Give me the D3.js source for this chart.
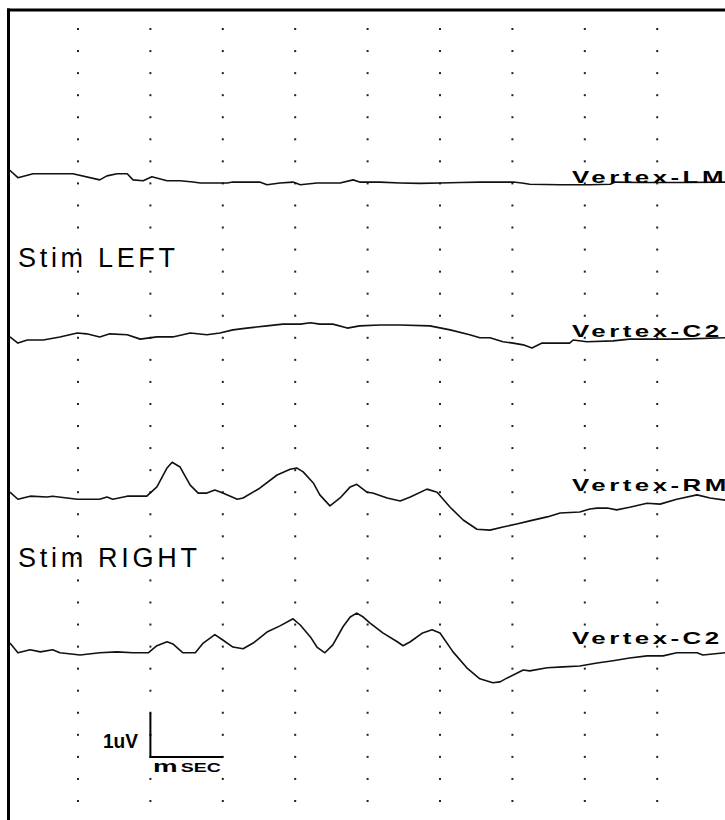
<!DOCTYPE html>
<html>
<head>
<meta charset="utf-8">
<script src="https://cdn.jsdelivr.net/npm/d3@7"></script>
<style>
  body { margin: 0; background: #fff; }
  svg { display: block; }
</style>
</head>
<body>
<svg width="725" height="820"></svg>
<script>
// time in msec, amplitude in uV (positive up)
const gridTimes = [10, 20, 30, 40, 50, 60, 70, 80, 90];
const gridRows = d3.range(0, 36);

const vertexLM = [
  [0.5, 0.23], [1.7, 0.05], [3.8, 0.14], [6.1, 0.14], [9.3, 0.14], [13.0, 0],
  [14.0, 0.09], [15.4, 0.14], [16.8, 0.14], [17.6, 0], [19.0, -0.02], [20.2, 0.07],
  [22.3, -0.02], [24.1, -0.02], [25.9, -0.05], [26.9, -0.07], [28.6, -0.07],
  [30.6, -0.07], [31.4, -0.05], [33.3, -0.05], [35.1, -0.05], [36.1, -0.11],
  [37.9, -0.07], [39.7, -0.05], [40.7, -0.11], [43.0, -0.07], [46.2, -0.07],
  [48.0, 0], [48.9, -0.05], [51.7, -0.05], [54.5, -0.07], [57.2, -0.08],
  [60.0, -0.07], [62.8, -0.06], [65.5, -0.05], [70.1, -0.05], [71.3, -0.07],
  [72.4, -0.10], [76.6, -0.11], [80.7, -0.11], [83.5, -0.10], [84.2, -0.05],
  [87.6, -0.06], [93.2, -0.06], [99.4, -0.05]
];

const vertexC2Left = [
  [0.6, 0], [1.7, -0.14], [3.0, -0.07], [5.2, -0.07], [7.5, 0], [9.9, 0.09],
  [11.2, 0.07], [13.0, 0], [14.4, 0.07], [16.8, 0.05], [18.6, -0.05], [20.9, 0],
  [23.1, 0], [25.5, 0.09], [27.8, 0.05], [29.6, 0.09], [31.4, 0.16], [33.3, 0.20],
  [36.1, 0.25], [38.3, 0.29], [40.7, 0.29], [42.1, 0.32], [43.4, 0.29],
  [45.2, 0.29], [47.2, 0.20], [48.9, 0.25], [51.7, 0.27], [54.5, 0.27],
  [58.6, 0.25], [61.4, 0.16], [64.1, 0.05], [65.5, -0.02], [66.9, -0.02],
  [68.7, -0.11], [70.1, -0.14], [71.5, -0.18], [72.7, -0.25], [74.1, -0.14],
  [77.9, -0.14], [78.4, -0.07], [80.3, -0.11], [83.9, -0.09], [86.2, -0.05],
  [93.2, -0.05], [99.4, -0.02]
];

const vertexRM = [
  [0.6, 0.11], [1.7, -0.05], [3.4, 0.02], [5.7, 0], [6.5, 0.02], [9.9, -0.05],
  [13.0, -0.05], [14.0, 0], [14.8, -0.05], [16.8, 0.02], [19.5, 0.02],
  [20.9, 0.23], [22.3, 0.66], [23.0, 0.79], [24.1, 0.68], [25.5, 0.27],
  [26.6, 0.09], [27.8, 0.09], [28.9, 0.16], [30.0, 0.09], [32.0, -0.05],
  [32.8, -0.02], [35.1, 0.20], [37.5, 0.50], [39.3, 0.63], [40.2, 0.66],
  [41.1, 0.57], [42.5, 0.32], [43.4, 0.05], [44.8, -0.20], [46.2, -0.02],
  [47.6, 0.23], [48.5, 0.29], [49.9, 0.11], [50.7, 0.09], [52.7, -0.02],
  [54.5, -0.09], [55.9, 0], [58.2, 0.18], [59.6, 0.11], [61.4, -0.23],
  [63.2, -0.52], [65.1, -0.73], [66.9, -0.75], [68.7, -0.68], [70.6, -0.61],
  [72.4, -0.54], [74.8, -0.45], [76.6, -0.36], [79.3, -0.34], [80.7, -0.27],
  [81.7, -0.25], [83.1, -0.25], [84.4, -0.29], [86.2, -0.23], [88.6, -0.14],
  [90.4, -0.16], [92.7, -0.05], [95.5, 0.05], [97.3, -0.02], [99.4, -0.07]
];

const vertexC2Right = [
  [0.6, 0.20], [1.7, -0.02], [3.4, 0.05], [4.8, 0], [6.5, 0.05], [7.5, -0.02],
  [10.3, -0.07], [13.0, -0.02], [15.4, 0], [17.6, -0.02], [19.7, -0.02],
  [20.9, 0.14], [22.3, 0.23], [23.1, 0.18], [24.5, -0.02], [26.2, -0.02],
  [27.3, 0.20], [28.9, 0.39], [30.0, 0.27], [31.4, 0.11], [32.8, 0.07],
  [34.2, 0.20], [36.1, 0.45], [37.9, 0.59], [39.7, 0.75], [40.7, 0.61],
  [42.1, 0.34], [43.0, 0.11], [44.1, -0.02], [45.2, 0.16], [46.6, 0.57],
  [47.6, 0.79], [48.5, 0.88], [49.4, 0.79], [50.3, 0.66], [52.1, 0.43],
  [54.1, 0.23], [54.9, 0.14], [55.9, 0.23], [57.6, 0.43], [58.9, 0.50],
  [60.0, 0.43], [61.8, 0], [63.7, -0.36], [65.5, -0.61], [67.3, -0.70],
  [68.3, -0.68], [69.3, -0.59], [71.5, -0.41], [72.4, -0.43], [74.8, -0.36],
  [77.0, -0.34], [79.3, -0.32], [81.7, -0.25], [83.9, -0.20], [86.2, -0.14],
  [88.6, -0.09], [90.8, -0.09], [92.7, -0.02], [95.5, -0.02], [96.3, -0.07],
  [99.4, -0.02]
];

// label baseline is given relative to the channel baseline, in uV
const channels = [
  { label: 'Vertex-LM', data: vertexLM, offset: -3.42, labelShift: -0.07 },
  { label: 'Vertex-C2', data: vertexC2Left, offset: -6.98, labelShift: 0 },
  { label: 'Vertex-RM', data: vertexRM, offset: -10.61, labelShift: 0.14 },
  { label: 'Vertex-C2', data: vertexC2Right, offset: -14.12, labelShift: 0.18 }
];

const stimLabels = [
  { text: 'Stim LEFT', level: -5.4, width: 157 },
  { text: 'Stim RIGHT', level: -12.2, width: 179 }
];

const svg = d3.select('svg');

// 10 msec per division, 0.5 uV per dot row
const x = d3.scaleLinear().domain([0, 100]).range([5.6, 729.6]);
const y = d3.scaleLinear().domain([0, -17.5]).range([29, 801]);

// dotted grid
const dots = [];
gridTimes.forEach((t) => {
  gridRows.forEach((r) => dots.push({ t, v: -r * 0.5 }));
});
svg.append('g')
  .selectAll('rect')
  .data(dots)
  .enter()
  .append('rect')
  .attr('x', d => x(d.t) - 1)
  .attr('y', d => y(d.v) - 1)
  .attr('width', 2)
  .attr('height', 2)
  .attr('fill', '#222');

// frame (left and top only)
svg.append('line')
  .attr('x1', 8.5).attr('x2', 8.5)
  .attr('y1', 8.5).attr('y2', 820)
  .attr('stroke', '#000').attr('stroke-width', 3);
svg.append('line')
  .attr('x1', 7).attr('x2', 725)
  .attr('y1', 10).attr('y2', 10)
  .attr('stroke', '#000').attr('stroke-width', 3);

// traces
const line = d3.line()
  .x(d => x(d[0]))
  .y(d => d[1]);

channels.forEach((ch) => {
  svg.append('path')
    .datum(ch.data.map(d => [d[0], y(ch.offset + d[1])]))
    .attr('d', line)
    .attr('fill', 'none')
    .attr('stroke', '#111')
    .attr('stroke-width', 1.6)
    .attr('stroke-linejoin', 'round');

  // wide plotter-style lettering, runs off the right edge like the original
  svg.append('text')
    .attr('transform', `translate(572,${y(ch.offset + ch.labelShift)}) scale(1.52,1)`)
    .attr('font-family', 'Liberation Sans, Arial, sans-serif')
    .attr('font-weight', 'bold')
    .attr('font-size', 17)
    .attr('letter-spacing', 2.3)
    .attr('fill', '#000')
    .text(ch.label);
});

// stimulus labels
svg.selectAll('.stim')
  .data(stimLabels)
  .enter()
  .append('text')
  .attr('class', 'stim')
  .attr('x', 18)
  .attr('y', d => y(d.level))
  .attr('font-family', 'Liberation Sans, Arial, sans-serif')
  .attr('font-size', 27)
  .attr('textLength', d => d.width)
  .attr('lengthAdjust', 'spacing')
  .attr('fill', '#000')
  .text(d => d.text);

// calibration bar: 1 uV by 10 msec
const bar = svg.append('g');
bar.append('path')
  .attr('d', `M${x(20)},${y(-15.5)}V${y(-16.5)}H${x(30)}`)
  .attr('fill', 'none')
  .attr('stroke', '#000')
  .attr('stroke-width', 2);
bar.append('text')
  .attr('x', 103)
  .attr('y', 748)
  .attr('font-family', 'Liberation Sans, Arial, sans-serif')
  .attr('font-weight', 'bold')
  .attr('font-size', 21)
  .attr('textLength', 35)
  .attr('lengthAdjust', 'spacingAndGlyphs')
  .text('1uV');
const unit = bar.append('text')
  .attr('x', 153)
  .attr('y', 772)
  .attr('font-family', 'Liberation Sans, Arial, sans-serif')
  .attr('font-weight', 'bold')
  .attr('textLength', 68)
  .attr('lengthAdjust', 'spacingAndGlyphs');
unit.append('tspan').attr('font-size', 17).text('m');
unit.append('tspan').attr('font-size', 12).attr('dx', 2).text('SEC');
</script>
</body>
</html>
